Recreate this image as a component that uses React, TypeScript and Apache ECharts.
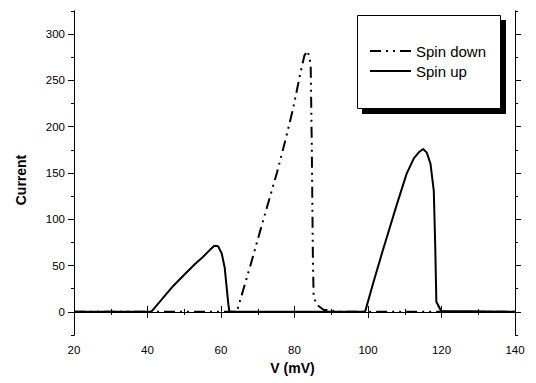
import React, { useEffect, useRef } from "react";
import * as echarts from "echarts";

const spinDownV = [20, 64.3, 66, 68, 69.7, 72, 75.2, 77.5, 79.7, 81.5, 82.7, 83.6, 84.4, 84.7, 85.0, 85.2, 86, 87, 88, 89.5, 91.5, 140];
const spinDownI = [0, 0, 23, 50, 74, 106, 150, 185, 221, 256, 277, 282, 268, 180, 60, 17, 8, 5, 2, 2, 0, 0];

const spinUpV = [20, 41, 44, 47, 50, 53, 55, 57, 58.2, 59.2, 60.2, 61, 61.5, 62, 62.3, 99.2, 101.4, 104, 106, 108, 110.5, 112.5, 114, 115, 116, 117, 117.9, 118.3, 118.6, 119.9, 140];
const spinUpI = [0, 0, 14, 28, 40, 52, 59, 67, 71.5, 71, 63, 48, 28, 8, 0, 0, 31, 66, 92, 118, 149, 166, 173, 176, 172, 160, 131, 70, 11, 1, 0];

const xTicks = [20, 40, 60, 80, 100, 120, 140];
const yMajor = [0, 50, 100, 150, 200, 250, 300];
const yMinor = [-25, 25, 75, 125, 175, 225, 275, 325];

const FONT = "Liberation Sans, Arial, sans-serif";

export default function App() {
  const ref = useRef<HTMLDivElement>(null);
  useEffect(() => {
    if (!ref.current) return;
    const chart = echarts.init(ref.current, undefined, { renderer: "svg" });
    const axisLine = { show: true, lineStyle: { color: "#000", width: 1 } };
    const yBase = (pos: "left" | "right", ticks: number[], len: number, labels: boolean, name?: string) => ({
      type: "value" as const,
      position: pos,
      min: -25,
      max: 325,
      name,
      nameLocation: "middle" as const,
      nameGap: 46,
      nameTextStyle: { fontFamily: FONT, fontSize: 14, fontWeight: "bold" as const, color: "#000", padding: [0, 14, 0, 0] },
      axisLine,
      splitLine: { show: false },
      axisTick: { show: true, inside: false, length: len, customValues: ticks, lineStyle: { color: "#000" } },
      axisLabel: labels
        ? { show: true, customValues: ticks, margin: 9, fontFamily: FONT, fontSize: 11.5, color: "#000" }
        : { show: false },
    });
    const xBase = (pos: "bottom" | "top", labels: boolean, name?: string) => ({
      type: "value" as const,
      position: pos,
      min: xTicks[0],
      max: xTicks[xTicks.length - 1],
      interval: 20,
      name,
      nameLocation: "middle" as const,
      nameGap: 26,
      nameTextStyle: { fontFamily: FONT, fontSize: 14, fontWeight: "bold" as const, color: "#000", padding: [0, 4, 0, 0] },
      axisLine,
      splitLine: { show: false },
      axisTick: { show: true, inside: false, length: 6, lineStyle: { color: "#000" } },
      minorTick: { show: true, splitNumber: 2, length: 3, lineStyle: { color: "#000" } },
      axisLabel: labels
        ? { show: true, margin: 9, fontFamily: FONT, fontSize: 11.5, color: "#000" }
        : { show: false },
    });
    chart.setOption({
      animation: false,
      backgroundColor: "#fff",
      grid: { left: 74, right: 21, top: 11, bottom: 48 },
      xAxis: [xBase("bottom", true, "V (mV)"), xBase("top", false)],
      yAxis: [
        yBase("left", yMajor, 6, true, "Current"),
        yBase("left", yMinor, 3, false),
        yBase("right", yMajor, 6, false),
        yBase("right", yMinor, 3, false),
      ],
      graphic: [
        { type: "rect", z: 5, shape: { x: 362, y: 20, width: 144, height: 94 }, style: { fill: "#000" } },
        { type: "rect", z: 6, shape: { x: 357.5, y: 15.5, width: 143, height: 93 }, style: { fill: "#fff", stroke: "#000", lineWidth: 1 } },
      ],
      legend: {
        z: 10,
        left: 369,
        top: 42,
        padding: 0,
        orient: "vertical",
        itemWidth: 41,
        itemHeight: 14,
        itemGap: 2,
        itemStyle: { opacity: 0 },
        textStyle: { fontFamily: FONT, fontSize: 15, lineHeight: 18, color: "#000" },
        data: ["Spin down", "Spin up"],
      },
      series: [
        {
          name: "Spin down",
          type: "line",
          xAxisIndex: 0,
          yAxisIndex: 0,
          symbol: "none",
          showSymbol: false,
          data: spinDownV.map((v, i) => [v, spinDownI[i]]),
          lineStyle: { color: "#000", width: 2, type: [11, 5, 2, 5, 2, 5] },
          itemStyle: { color: "#000" },
          z: 3,
        },
        {
          name: "Spin up",
          type: "line",
          xAxisIndex: 0,
          yAxisIndex: 0,
          symbol: "none",
          showSymbol: false,
          data: spinUpV.map((v, i) => [v, spinUpI[i]]),
          lineStyle: { color: "#000", width: 2, type: "solid" },
          itemStyle: { color: "#000" },
          z: 3,
        },
      ],
    });
    return () => chart.dispose();
  }, []);
  return <div ref={ref} style={{ width: 536, height: 383, position: "absolute", left: 0, top: 0 }} />;
}
